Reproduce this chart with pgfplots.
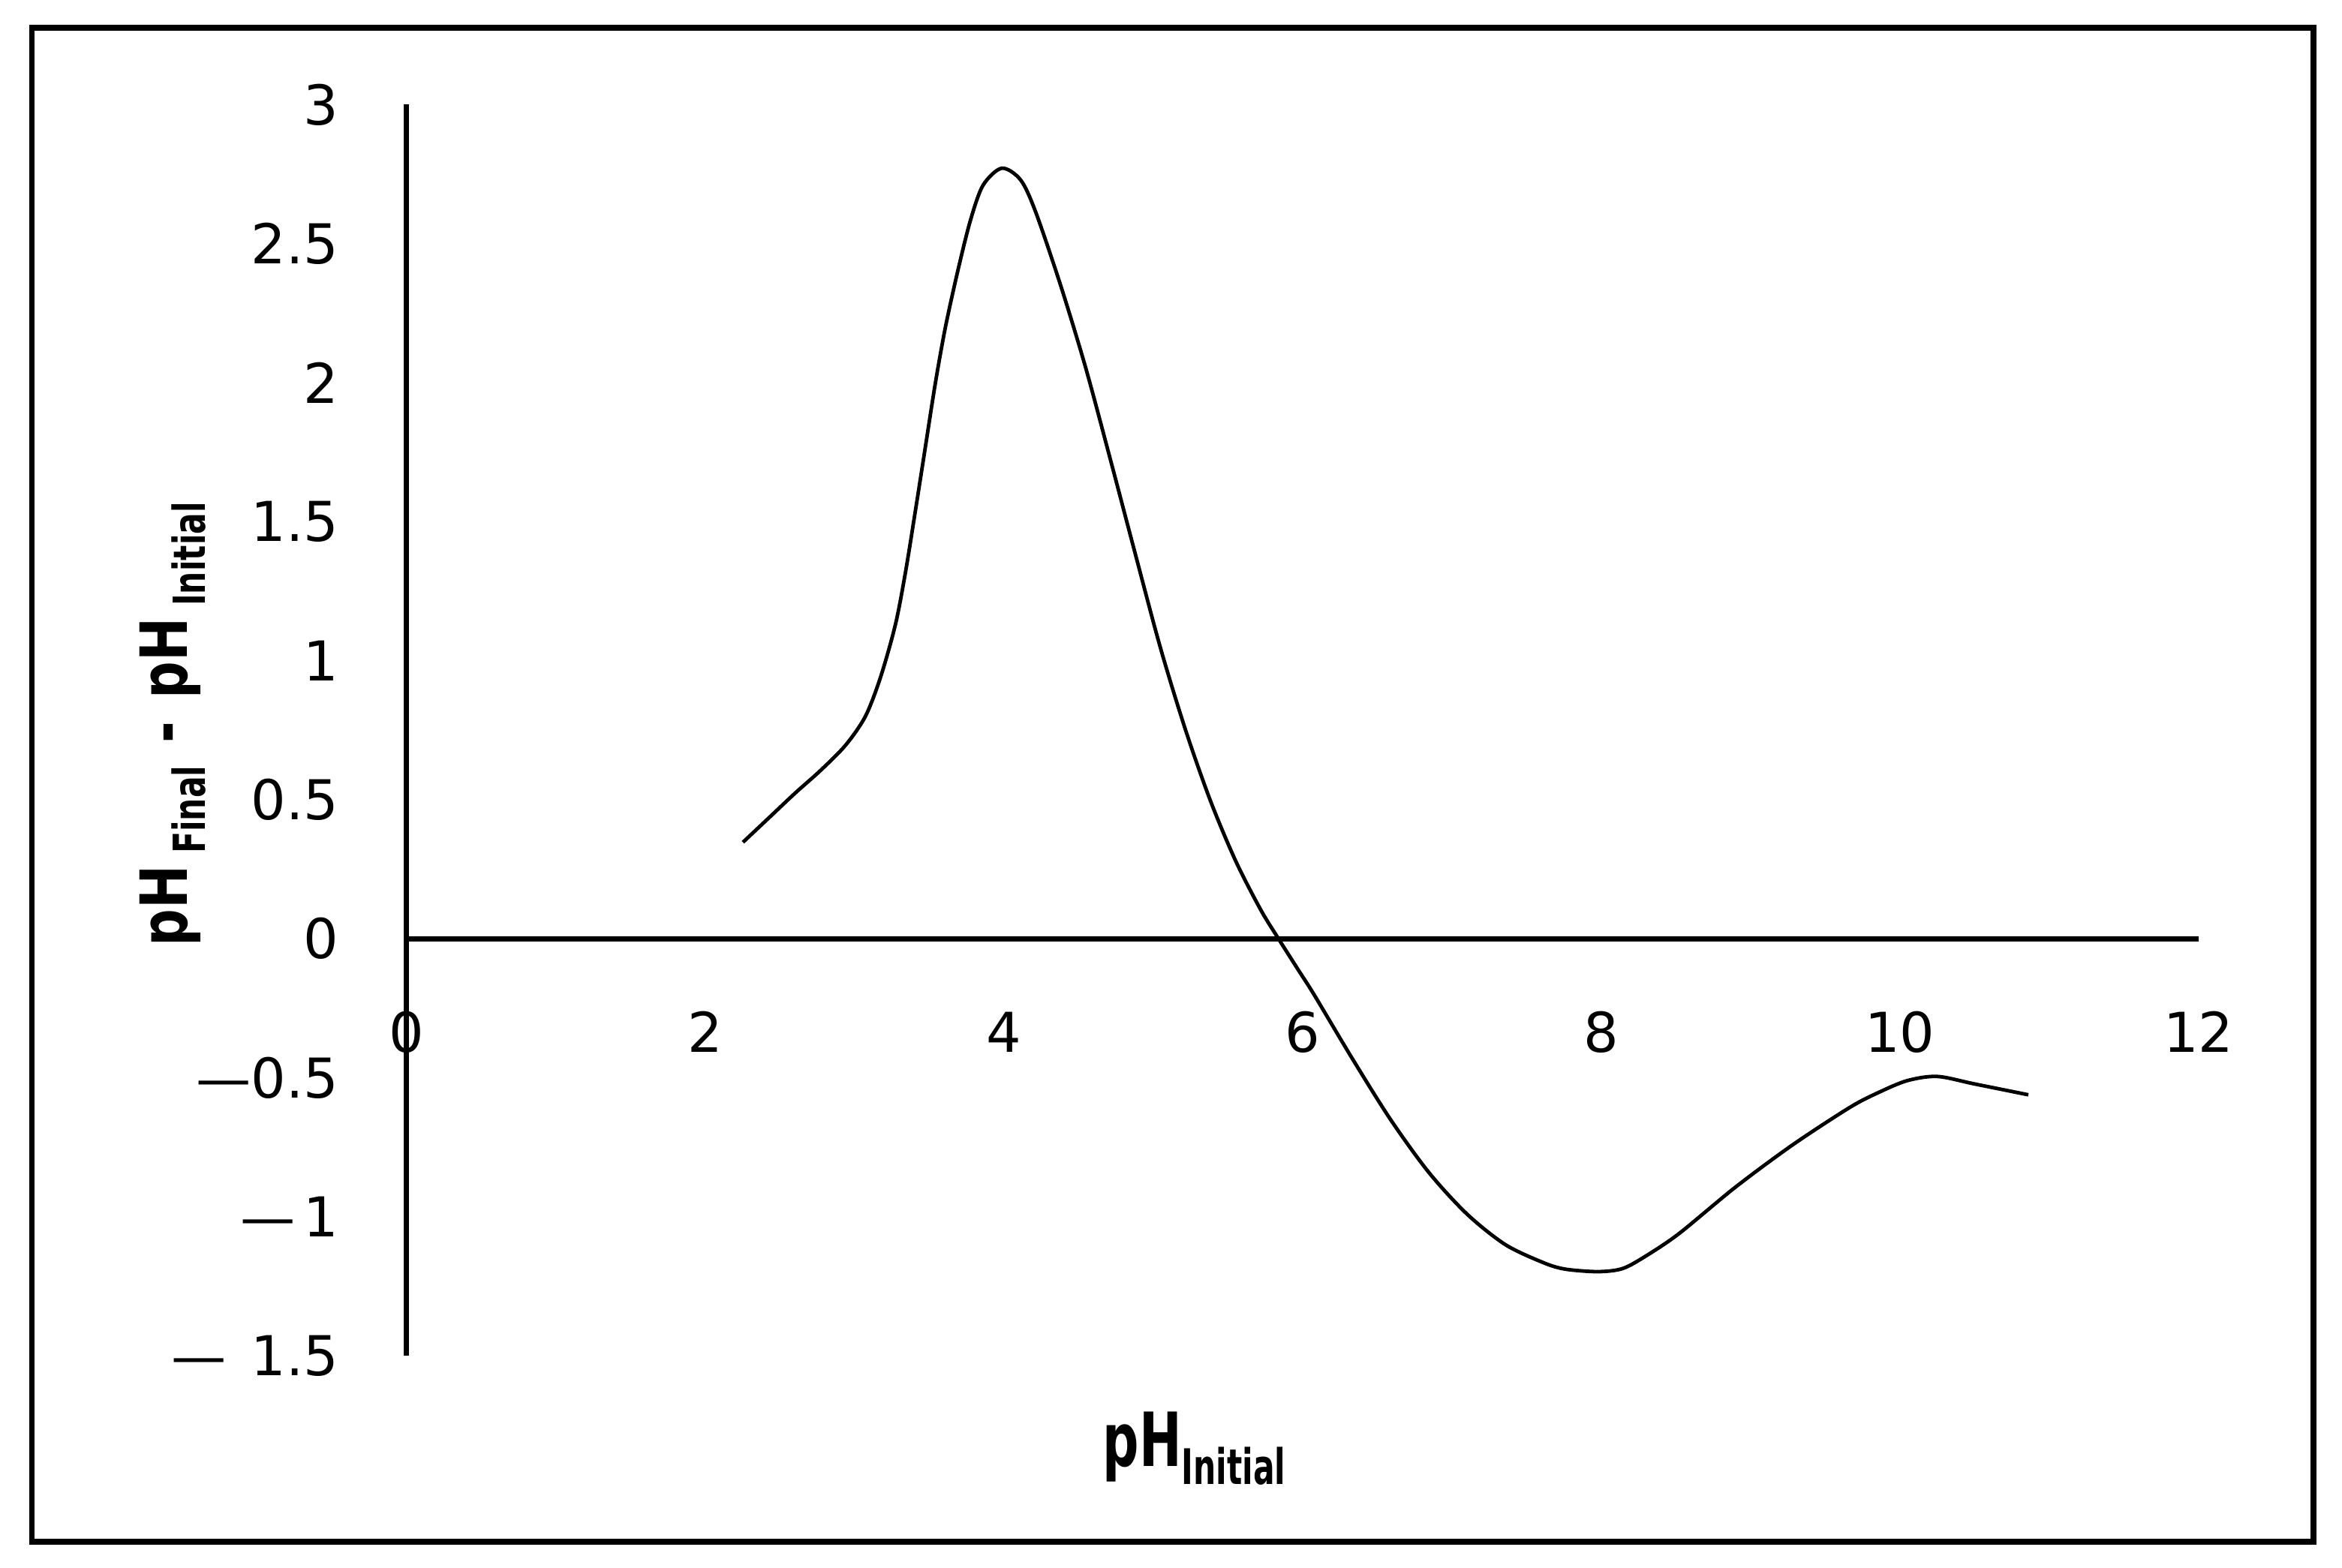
\documentclass[border=0pt]{standalone}
\usepackage{fontspec}
\setmainfont{DejaVu Sans}
\usepackage{graphicx}
\usepackage{pgfplots}
\pgfplotsset{compat=1.18}
\begin{document}
\begin{tikzpicture}
\path[use as bounding box] (-68pt,-35.5pt) rectangle (324pt,227pt);
\begin{axis}[
  at={(0,0)}, anchor=south west,
  scale only axis, width=300pt, height=209.5pt,
  xmin=0, xmax=12, ymin=-1.5, ymax=3,
  axis lines=middle,
  axis line style={-, line width=0.85pt, black},
  every inner x axis line/.append style={-},
  every inner y axis line/.append style={-},
  major tick length=0pt,
  hide obscured x ticks=false, hide obscured y ticks=false,
  xtick={0,2,4,6,8,10,12},
  xticklabels={0,2,4,6,8,10,12},
  ytick={-1.5,-1,-0.5,0,0.5,1,1.5,2,2.5,3},
  yticklabels={{\textemdash\hspace{0.45em}1.5},{\textemdash\hspace{0.15em}1},{\textemdash 0.5},0,0.5,1,1.5,2,2.5,3},
  ticklabel style={font=\fontsize{9.2}{11}\selectfont, inner sep=0pt},
  xticklabel style={anchor=base, yshift=-19pt},
  yticklabel style={anchor=east, xshift=-11.1pt},
  every axis x label/.style={at={(axis description cs:0.4396,-0.0883)}, anchor=base},
  every axis y label/.style={at={(axis description cs:-0.122,0.5048)}, rotate=90, anchor=base},
  xlabel={\bfseries\fontsize{12.5}{14}\selectfont\scalebox{0.68}[1]{pH}\raisebox{-3pt}{\fontsize{8.2}{9}\selectfont\scalebox{0.65}[1]{Initial}}},
  ylabel={\bfseries\fontsize{10.9}{13}\selectfont\scalebox{0.8}[1]{pH}\hspace{2pt}\raisebox{-3pt}{\fontsize{7.4}{9}\selectfont\scalebox{0.72}[1]{Final}} \scalebox{0.8}[1]{-} \scalebox{0.8}[1]{pH}\hspace{2pt}\raisebox{-3pt}{\fontsize{7.4}{9}\selectfont\scalebox{0.72}[1]{Initial}}},
]
\addplot[black, line width=0.6pt, smooth, tension=0.5] coordinates {
(2.254,0.347) (2.438,0.440) (2.606,0.525) (2.773,0.605) (2.941,0.696)
(3.074,0.800) (3.175,0.940) (3.275,1.130) (3.343,1.320) (3.409,1.540)
(3.476,1.770) (3.543,2.000) (3.610,2.200) (3.694,2.405) (3.778,2.585)
(3.862,2.710) (3.987,2.771) (4.113,2.729) (4.213,2.615) (4.381,2.350)
(4.548,2.055) (4.716,1.720) (4.883,1.380) (5.050,1.045) (5.218,0.750)
(5.385,0.495) (5.553,0.280) (5.720,0.105) (5.840,0.000) (5.970,-0.110)
(6.077,-0.200) (6.333,-0.430) (6.590,-0.650) (6.846,-0.840) (7.102,-0.990)
(7.359,-1.100) (7.615,-1.165) (7.760,-1.188) (7.974,-1.197) (8.130,-1.188)
(8.256,-1.155) (8.512,-1.064) (8.897,-0.894) (9.282,-0.741) (9.666,-0.606)
(9.860,-0.552) (10.05,-0.510) (10.25,-0.495) (10.50,-0.522) (10.86,-0.561)
};
\end{axis}
\draw[line width=1pt] (-62.66pt,-31.1pt) rectangle (319.2pt,222.4pt);
\end{tikzpicture}
\end{document}
